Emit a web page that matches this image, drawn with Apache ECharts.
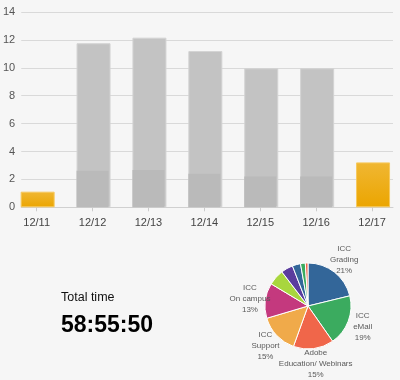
<!DOCTYPE html>
<html><head><meta charset="utf-8">
<script src="https://cdn.jsdelivr.net/npm/echarts@6/dist/echarts.min.js"></script>
<style>html,body{margin:0;padding:0;background:#f6f6f6}#c{width:400px;height:380px}</style>
</head><body><div id="c"></div>
<script>
const days = ['12/11','12/12','12/13','12/14','12/15','12/16','12/17'];
const dayHours = [1.12, 11.76, 12.16, 11.2, 9.96, 9.96, 3.22];
const dayBaseHours = [null, 2.62, 2.67, 2.4, 2.2, 2.2, null];
const highlightDays = ['12/11','12/17'];
const yMin = 0, yMax = 14, yStep = 2;
const pieNames = ['ICC\nGrading','ICC\neMail','Adobe\nEducation/ Webinars','ICC\nSupport','ICC\nOn campus','ICC\nOther','ICC\nMeetings','ICC\nAdmin','ICC\nTraining','ICC\nMisc'];
const pieValues = [21.2, 19.1, 15.2, 14.9, 13.2, 6.0, 4.5, 3.1, 1.8, 1.0];
const pieColors = ['#336699','#3bab5f','#f0664a','#f0aa4a','#c4397e','#a8d63e','#5b3d9e','#336699','#3bab5f','#f0664a'];
const labeledCount = 5;
const totalLabel = 'Total time';
const totalValue = '58:55:50';

const FONT = '"Liberation Sans", Arial, sans-serif';
const grayStyle = { color: '#c3c3c3', borderColor: '#d3d3d3', borderWidth: 1 };
const orangeStyle = {
  color: { type: 'linear', x: 0, y: 0, x2: 0, y2: 1, colorStops: [
    { offset: 0, color: '#f0b733' }, { offset: 1, color: '#eba500' } ] },
  borderColor: '#f6c95e', borderWidth: 1
};

const chart = echarts.init(document.getElementById('c'), null, { renderer: 'canvas' });
const pieData = pieNames.map((n, i) => ({ name: n, value: pieValues[i], itemStyle: { color: pieColors[i] } }));
const pieLabelData = pieNames.map((n, i) => ({ name: n, value: pieValues[i], label: { show: i < labeledCount } }));

chart.setOption({
  backgroundColor: '#f6f6f6',
  animation: false,
  textStyle: { fontFamily: FONT },
  grid: [
    { left: 8.7, width: 396.1, top: 12, bottom: 172.7 },
    { left: 20.5, right: 7, top: 12, bottom: 172.7 }
  ],
  xAxis: [
    { type: 'category', gridIndex: 0, data: days, boundaryGap: true,
      axisLine: { show: false },
      axisTick: { show: true, alignWithLabel: true, length: 4, lineStyle: { color: '#cccccc' } },
      axisLabel: { fontSize: 11, color: '#444', margin: 10, fontFamily: FONT } },
    { type: 'value', gridIndex: 1, min: 0, max: 1, axisLabel: { show: false }, axisTick: { show: false },
      splitLine: { show: false }, axisLine: { show: true, lineStyle: { color: '#d0d0d0' } } }
  ],
  yAxis: [
    { type: 'value', gridIndex: 0, min: yMin, max: yMax, interval: yStep, show: false },
    { type: 'value', gridIndex: 1, min: yMin, max: yMax, interval: yStep,
      axisLine: { show: false }, axisTick: { show: false },
      axisLabel: { fontSize: 11, color: '#555', margin: 6, fontFamily: FONT },
      splitLine: { lineStyle: { color: '#d9d9d9', width: 1 } } }
  ],
  series: [
    { type: 'bar', xAxisIndex: 0, yAxisIndex: 0, barWidth: 34, clip: false,
      data: days.map((d, i) => ({ value: dayHours[i], itemStyle: highlightDays.includes(d) ? orangeStyle : grayStyle })) },
    { type: 'bar', xAxisIndex: 0, yAxisIndex: 0, barWidth: 32, barGap: '-100%', clip: false,
      itemStyle: { color: '#bababa' }, data: dayBaseHours },
    { type: 'pie', center: [308, 306], radius: 43, percentPrecision: 0, silent: true,
      itemStyle: { borderColor: '#ffffff', borderWidth: 1 },
      label: { show: false }, labelLine: { show: false }, data: pieData },
    { type: 'pie', center: [308, 306], radius: [43, 68], percentPrecision: 0, silent: true,
      avoidLabelOverlap: false,
      itemStyle: { color: 'transparent' },
      label: { show: true, position: 'inside', formatter: '{b}\n{d}%', fontSize: 8, lineHeight: 11,
        color: '#5a5a5a', fontFamily: FONT, align: 'center', padding: [4, 0, 0, 0] },
      labelLayout: { hideOverlap: false },
      labelLine: { show: false }, data: pieLabelData }
  ],
  graphic: [
    { type: 'text', left: 61, top: 291, style: { text: totalLabel, font: '12.5px ' + FONT, fill: '#111' } },
    { type: 'text', left: 61, top: 314, style: { text: totalValue, font: 'bold 23px ' + FONT, fill: '#000' } }
  ]
});
</script></body></html>
